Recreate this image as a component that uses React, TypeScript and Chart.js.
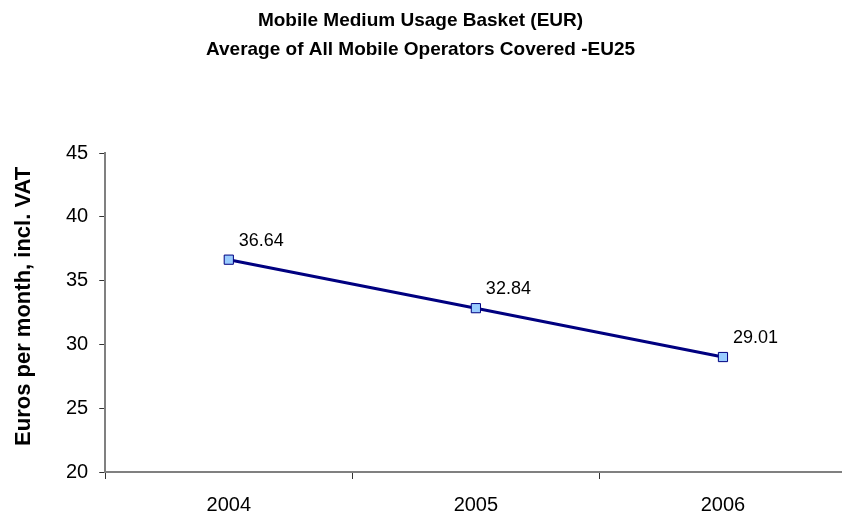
import React, { useEffect, useRef } from "react";
import { Chart, registerables } from "chart.js";

Chart.register(...registerables);

const categories = ["2004", "2005", "2006"];
const basketValues = [36.64, 32.84, 29.01];
const yTicks = [20, 25, 30, 35, 40, 45];
const titleLines = [
  "Mobile Medium Usage Basket (EUR)",
  "Average of All Mobile Operators Covered -EU25",
];
const yAxisTitle = "Euros per month, incl. VAT";

const FONT = "'Liberation Sans', Arial, sans-serif";

const valueLabels = {
  id: "valueLabels",
  afterDatasetsDraw(chart: any) {
    const ctx = chart.ctx;
    const meta = chart.getDatasetMeta(0);
    const data = chart.data.datasets[0].data as number[];
    ctx.save();
    ctx.font = `18px ${FONT}`;
    ctx.fillStyle = "#000000";
    ctx.textAlign = "left";
    ctx.textBaseline = "alphabetic";
    meta.data.forEach((pt: any, i: number) => {
      ctx.fillText(data[i].toFixed(2), pt.x + 10, pt.y - 14);
    });
    ctx.restore();
  },
};

export default function App() {
  const canvasRef = useRef<HTMLCanvasElement | null>(null);

  useEffect(() => {
    const canvas = canvasRef.current;
    if (!canvas) return;
    const chart = new Chart(canvas, {
      type: "line",
      data: {
        labels: categories,
        datasets: [
          {
            data: basketValues,
            borderColor: "#000080",
            borderWidth: 3,
            pointStyle: "rect",
            pointRadius: 6.5,
            pointHoverRadius: 6.5,
            pointBackgroundColor: "#99CCFF",
            pointBorderColor: "#000080",
            pointBorderWidth: 1,
            tension: 0,
            fill: false,
          },
        ],
      },
      options: {
        responsive: false,
        animation: false,
        layout: { padding: { left: 0, right: 0, top: 0, bottom: 0 } },
        plugins: {
          legend: { display: false },
          tooltip: { enabled: false },
          title: {
            display: true,
            text: titleLines,
            color: "#000000",
            font: { family: FONT, size: 19, weight: "bold", lineHeight: 1.5 },
            padding: { top: 7, bottom: 89 },
          },
        },
        scales: {
          x: {
            type: "category",
            offset: true,
            grid: {
              display: true,
              offset: true,
              drawOnChartArea: false,
              drawTicks: true,
              tickLength: 7,
              color: "#333333",
            },
            border: { display: true, color: "#808080", width: 2 },
            ticks: {
              color: "#000000",
              padding: 14,
              font: { family: FONT, size: 20 },
            },
          },
          y: {
            min: 20,
            max: 45,
            afterBuildTicks: (axis: any) => {
              axis.ticks = yTicks.map((v) => ({ value: v }));
            },
            grid: {
              display: true,
              drawOnChartArea: false,
              drawTicks: true,
              tickLength: 6,
              color: "#333333",
            },
            border: { display: true, color: "#808080", width: 2 },
            ticks: {
              color: "#000000",
              padding: 11,
              font: { family: FONT, size: 20 },
            },
            title: {
              display: true,
              text: "\u00a0\u00a0" + yAxisTitle,
              color: "#000000",
              font: { family: FONT, size: 22, weight: "bold", lineHeight: 1.2 },
              padding: { top: 24, bottom: 17.6 },
            },
          },
        },
      },
      plugins: [valueLabels],
    });
    return () => chart.destroy();
  }, []);

  return (
    <div style={{ position: "absolute", left: 0, top: 0, width: 842, height: 518, overflow: "hidden" }}>
      <canvas
        ref={canvasRef}
        width={867}
        height={531}
        style={{ display: "block", position: "absolute", left: -13, top: 0 }}
      />
    </div>
  );
}
